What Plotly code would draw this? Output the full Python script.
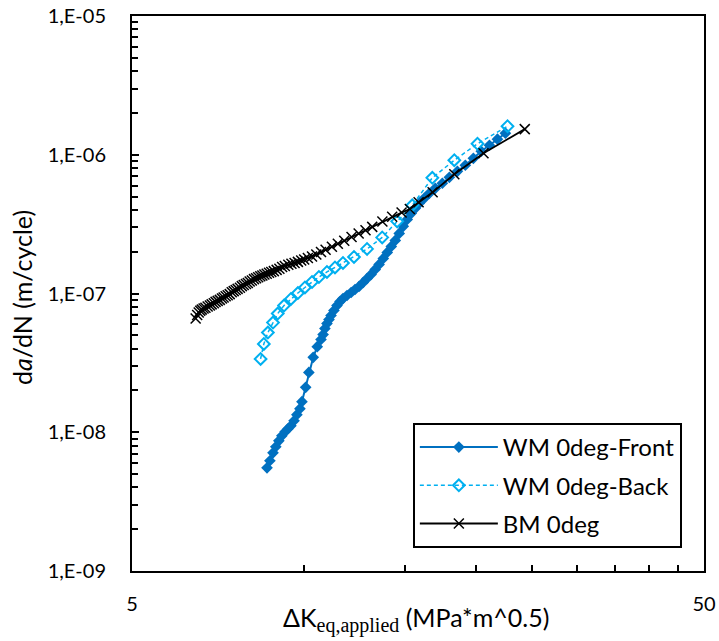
import plotly.graph_objects as go

# ---- data ----
front_x = [8.61, 8.71, 8.82, 8.92, 9.03, 9.14, 9.26, 9.37, 9.48, 9.60, 9.71, 9.83, 9.91,
           10.06, 10.19, 10.37, 10.54, 10.70, 10.79, 10.87, 10.96, 11.05, 11.14, 11.27,
           11.41, 11.55, 11.69, 11.88, 12.08, 12.27, 12.47, 12.68, 12.88, 13.09, 13.31,
           13.52, 13.75, 13.97, 14.20, 14.43, 14.66, 14.90, 15.14, 15.39, 15.64, 15.89,
           16.21, 16.55, 16.95, 17.44, 17.94, 18.53, 19.13, 19.76, 20.40, 21.08, 21.77, 22.48]
front_y = [5.54e-9, 6.23e-9, 7.11e-9, 7.86e-9, 8.68e-9, 9.43e-9, 1.008e-8, 1.06e-8, 1.114e-8,
           1.21e-8, 1.338e-8, 1.478e-8, 1.66e-8, 2.106e-8, 2.70e-8, 3.47e-8, 4.14e-8, 4.66e-8,
           5.06e-8, 5.59e-8, 6.07e-8, 6.49e-8, 6.94e-8, 7.54e-8, 8.19e-8, 8.75e-8, 9.20e-8,
           9.67e-8, 1.017e-7, 1.069e-7, 1.123e-7, 1.20e-7, 1.283e-7, 1.372e-7, 1.49e-7, 1.62e-7,
           1.789e-7, 1.977e-7, 2.184e-7, 2.414e-7, 2.712e-7, 3.047e-7, 3.42e-7, 3.78e-7, 4.11e-7,
           4.465e-7, 4.85e-7, 5.27e-7, 5.73e-7, 6.23e-7, 6.88e-7, 7.60e-7, 8.40e-7, 9.43e-7,
           1.06e-6, 1.171e-6, 1.294e-6, 1.43e-6]

back_x = [8.39, 8.50, 8.64, 8.82, 8.99, 9.22, 9.48, 9.75, 10.03, 10.32, 10.61, 10.96, 11.32,
          11.69, 12.22, 12.88, 13.69, 14.54, 15.45, 16.75, 18.30, 20.09, 22.67]
back_y = [3.377e-8, 4.33e-8, 5.23e-8, 6.17e-8, 7.17e-8, 8.19e-8, 9.13e-8, 1.008e-7, 1.105e-7,
          1.21e-7, 1.315e-7, 1.43e-7, 1.54e-7, 1.66e-7, 1.834e-7, 2.096e-7, 2.537e-7, 3.31e-7,
          4.32e-7, 6.82e-7, 9.13e-7, 1.20e-6, 1.606e-6]

bm_x = [6.46, 6.50, 6.54, 6.58, 6.62, 6.67, 6.72, 6.78, 6.84, 6.89, 6.95, 7.00, 7.06, 7.12,
        7.18, 7.23, 7.29, 7.35, 7.41, 7.47, 7.53, 7.59, 7.65, 7.72, 7.78, 7.84, 7.91, 7.97,
        8.03, 8.10, 8.17, 8.24, 8.31, 8.38, 8.45, 8.52, 8.60, 8.68, 8.76, 8.85, 8.95, 9.05,
        9.15, 9.25, 9.38, 9.50, 9.62, 9.75, 9.88, 10.0, 10.15, 10.32, 10.5, 10.7, 10.9, 11.18,
        11.45, 11.75, 12.1, 12.45, 12.8, 13.15, 13.7, 14.25, 14.8, 15.3, 15.85, 16.77, 18.3,
        20.58, 24.3]
bm_y = [6.6e-8, 7.0e-8, 7.3e-8, 7.5e-8, 7.65e-8, 7.8e-8, 7.9e-8, 8.05e-8, 8.2e-8, 8.35e-8,
        8.5e-8, 8.7e-8, 8.85e-8, 9.0e-8, 9.2e-8, 9.35e-8, 9.55e-8, 9.7e-8, 9.9e-8, 1.02e-7,
        1.04e-7, 1.06e-7, 1.08e-7, 1.10e-7, 1.13e-7, 1.15e-7, 1.17e-7, 1.19e-7, 1.22e-7,
        1.24e-7, 1.27e-7, 1.29e-7, 1.31e-7, 1.33e-7, 1.35e-7, 1.37e-7, 1.39e-7, 1.41e-7,
        1.43e-7, 1.45e-7, 1.48e-7, 1.51e-7, 1.55e-7, 1.58e-7, 1.61e-7, 1.64e-7, 1.66e-7,
        1.69e-7, 1.73e-7, 1.76e-7, 1.80e-7, 1.85e-7, 1.91e-7, 1.99e-7, 2.07e-7, 2.17e-7,
        2.28e-7, 2.40e-7, 2.55e-7, 2.71e-7, 2.86e-7, 3.02e-7, 3.30e-7, 3.57e-7, 3.83e-7,
        4.06e-7, 4.54e-7, 5.36e-7, 7.23e-7, 1.025e-6, 1.53e-6]

y_tickvals = [1e-9, 1e-8, 1e-7, 1e-6, 1e-5]
y_ticktext = ["1,E-09", "1,E-08", "1,E-07", "1,E-06", "1,E-05"]
x_tickvals = [5, 50]
x_ticktext = ["5", "50"]
x_minor = [10, 15, 20, 25, 30, 35, 40, 45]
y_minor = [m * 10.0 ** e for e in range(-9, -5) for m in range(2, 10)]

FONT = "Lato, 'Liberation Sans', sans-serif"

fig = go.Figure()
fig.add_trace(go.Scatter(
    x=front_x, y=front_y, name="WM 0deg-Front", mode="lines+markers",
    line=dict(color="#0070C0", width=2),
    marker=dict(symbol="diamond", size=9, color="#0070C0"),
    legendgroup="a"))
fig.add_trace(go.Scatter(
    x=back_x, y=back_y, name="WM 0deg-Back", mode="lines+markers",
    line=dict(color="#00B0F0", width=1.5, dash="4px,3px"),
    marker=dict(symbol="diamond-open", size=9, color="#00B0F0", line=dict(width=2, color="#00B0F0")),
    legendgroup="b"))
fig.add_trace(go.Scatter(
    x=bm_x, y=bm_y, name="BM 0deg", mode="lines+markers",
    line=dict(color="black", width=1.8),
    marker=dict(symbol="x-thin", size=10, color="black", line=dict(width=1.5, color="black")),
    legendgroup="c"))

fig.update_layout(
    width=719, height=641,
    margin=dict(l=132, r=15, t=16, b=70, autoexpand=False),
    paper_bgcolor="white", plot_bgcolor="white",
    font=dict(family=FONT, size=20, color="black"),
    showlegend=True,
    legend=dict(x=0.491, y=0.2667, xanchor="left", yanchor="top",
                bgcolor="white", bordercolor="black", borderwidth=2,
                font=dict(family=FONT, size=24, color="black"),
                tracegroupgap=4, itemwidth=78),
    xaxis=dict(type="log", range=[0.69897, 1.69897], showgrid=False, zeroline=False,
               showline=True, linecolor="black", linewidth=2, mirror=True,
               tickmode="array", tickvals=x_tickvals, ticktext=x_ticktext,
               ticks="inside", ticklen=0, tickcolor="black",
               ticklabelstandoff=14, ticklabeloverflow="allow",
               tickfont=dict(family=FONT, size=20, color="black"),
               minor=dict(tickmode="array", tickvals=x_minor, ticks="inside",
                          ticklen=6, tickwidth=1.5, tickcolor="black", showgrid=False)),
    yaxis=dict(type="log", range=[-9, -5], showgrid=False, zeroline=False,
               showline=True, linecolor="black", linewidth=2, mirror=True,
               tickmode="array", tickvals=y_tickvals, ticktext=y_ticktext,
               ticks="inside", ticklen=7, tickwidth=1.5, tickcolor="black",
               ticklabelstandoff=20, ticklabeloverflow="allow",
               tickfont=dict(family=FONT, size=20, color="black"),
               minor=dict(tickmode="array", tickvals=y_minor, ticks="inside",
                          ticklen=6, tickwidth=1.5, tickcolor="black", showgrid=False)),
    annotations=[
        dict(text='ΔK<sub><span style="font-family:\'Liberation Serif\';font-size:20px">eq,applied</span></sub> (MPa*m^0.5)',
             xref="paper", yref="paper", x=0.4965, y=-0.0865,
             xanchor="center", yanchor="middle", showarrow=False,
             font=dict(family=FONT, size=25, color="black")),
        dict(text="d<i>a</i>/dN (m/cycle)",
             xref="paper", yref="paper", x=-0.1923, y=0.492,
             xanchor="center", yanchor="middle", textangle=-90, showarrow=False,
             font=dict(family=FONT, size=25, color="black")),
    ],
)

# remove the browser's default 8px body margin so the figure sits at the page origin
fig.write_html("out.html", config={"displayModeBar": False},
               post_script="document.body.style.margin='0px';")
